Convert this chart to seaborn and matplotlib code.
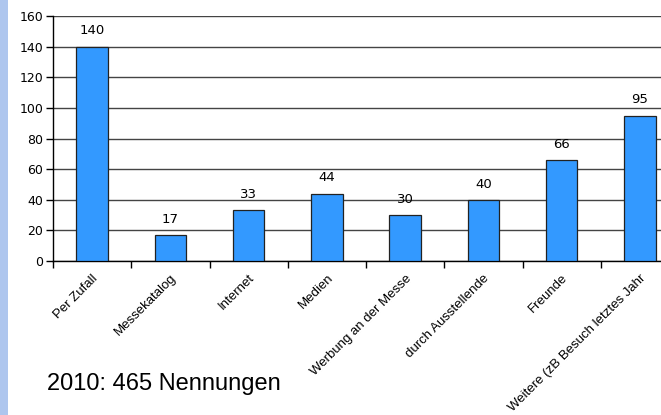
import matplotlib
matplotlib.use("Agg")
import matplotlib.pyplot as plt
import seaborn as sns
import pandas as pd
from matplotlib.patches import Rectangle

categories = ["Per Zufall", "Messekatalog", "Internet", "Medien", "Werbung an der Messe",
              "durch Ausstellende", "Freunde", "Weitere (zB Besuch letztes Jahr"]
values = [140, 17, 33, 44, 30, 40, 66, 95]
yticks = [0, 20, 40, 60, 80, 100, 120, 140, 160]
note = "2010: 465 Nennungen"

df = pd.DataFrame({"cat": categories, "val": values})

sns.set_theme(style="white")
plt.rcParams['font.family'] = ['DejaVu Sans']
plt.rcParams['text.color'] = 'black'
plt.rcParams['xtick.color'] = 'black'
plt.rcParams['ytick.color'] = 'black'

fig = plt.figure(figsize=(6.61, 4.15), dpi=100)
fig.patches.append(Rectangle((0, 0), 8/661, 1, transform=fig.transFigure,
                             facecolor="#aec6ee", edgecolor="none", zorder=0))

W, H = 661, 415
left, right, top, bottom = 53, 679, 16, 261
ax = fig.add_axes([left/W, 1 - bottom/H, (right-left)/W, (bottom-top)/H])

sns.barplot(data=df, x="cat", y="val", color="#3399ff", saturation=1, width=0.4,
            edgecolor="#222222", linewidth=0.9, ax=ax, zorder=3)

ax.set_ylim(0, 160)
ax.set_xlim(-0.5, len(categories) - 0.5)
ax.set_yticks(yticks)
ax.set_yticklabels([str(t) for t in yticks], fontsize=9, color="black")
ax.yaxis.grid(True, color="#444444", linewidth=1.0, zorder=0)
ax.set_axisbelow(True)
ax.set_xlabel("")
ax.set_ylabel("")

for s in ["top", "right"]:
    ax.spines[s].set_visible(False)
for s in ["left", "bottom"]:
    ax.spines[s].set_color("black")
    ax.spines[s].set_linewidth(1.0)

ax.tick_params(axis="y", which="major", left=True, length=5, width=1, color="black", pad=2)
ax.set_xticks([i + 0.5 for i in range(len(categories) - 1)] + [-0.5], minor=True)
ax.set_xticks(range(len(categories)))
ax.set_xticklabels(categories, rotation=45, ha="right", rotation_mode="anchor",
                   fontsize=9.5, color="black", family=["Liberation Sans", "DejaVu Sans"])
ax.tick_params(axis="x", which="major", bottom=False, pad=2)
ax.tick_params(axis="x", which="minor", bottom=True, length=5, width=1, color="black")

for i, v in enumerate(values):
    ax.text(i, v + 6, str(v), ha="center", va="bottom", fontsize=9.5, color="black")

fig.text(47/W, 1 - 384/H, note, fontsize=17, va="center", ha="left",
         family=["Liberation Sans", "DejaVu Sans"], color="black")

fig.savefig("out.png", dpi=100)
